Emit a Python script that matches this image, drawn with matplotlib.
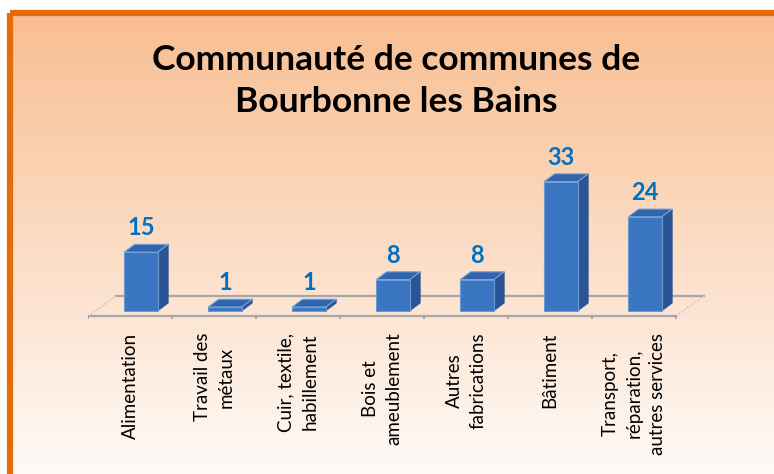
import numpy as np
import matplotlib.pyplot as plt
from matplotlib.patches import Polygon, Rectangle

plt.rcParams['font.family'] = ['Lato', 'DejaVu Sans']

categories = ["Alimentation", "Travail des\nmétaux", "Cuir, textile,\nhabillement",
              "Bois et\nameublement", "Autres\nfabrications", "Bâtiment",
              "Transport,\nréparation,\nautres services"]
values = [15, 1, 1, 8, 8, 33, 24]
title = "Communauté de communes de\nBourbonne les Bains"

fig = plt.figure(figsize=(7.74, 4.74), dpi=100)

# background: orange -> white gradient with orange frame
bg = fig.add_axes([0, 0, 1, 1])
bg.set_xlim(0, 774)
bg.set_ylim(474, 0)
bg.axis('off')
top = np.array([248, 190, 145]) / 255
bot = np.array([255, 251, 248]) / 255
t = np.linspace(0, 1, 256)[:, None]
grad = (top * (1 - t) + bot * t)[:, None, :]
bg.imshow(grad, extent=[10, 790, 480, 13], aspect='auto', zorder=0)
bg.add_patch(Rectangle((10, 12.5), 800, 500, fill=False, edgecolor='#E46C0A', lw=4.5, zorder=1))
bg.text(396, 81, title, ha='center', va='center', fontsize=25.5, fontweight='bold',
        linespacing=1.4, color='black')

# main chart area (pseudo 3d)
ax = fig.add_axes([88 / 774, (474 - 318.8) / 474, 7.35 * 84 / 774, 38 * 3.92 / 474])
ax.set_facecolor('none')
ax.set_xlim(-0.5, 6.85)
ax.set_ylim(-2, 36)
for s in ax.spines.values():
    s.set_visible(False)
ax.set_yticks([])

n = len(values)
floor_y = -1.3
fdx, fdy = 0.333, 5.1
grey = '#A6A6A6'
ax.plot([-0.5, n - 0.5], [floor_y, floor_y], color=grey, lw=1.6, zorder=1)
ax.plot([-0.5 + fdx, n - 0.5 + fdx], [floor_y + fdy, floor_y + fdy], color=grey, lw=1.6, zorder=1)
ax.plot([-0.5, -0.5 + fdx], [floor_y, floor_y + fdy], color='#C8C8C8', lw=1.2, ls=(0, (1, 1)), zorder=1)
ax.plot([n - 0.5, n - 0.5 + fdx], [floor_y, floor_y + fdy], color='#C8C8C8', lw=1.2, ls=(0, (1, 1)), zorder=1)
for b in np.arange(-0.5, n, 1.0):
    ax.plot([b, b], [floor_y, floor_y - 1.6], color=grey, lw=1.4, zorder=1)

dx, dy = 0.125, 2.0
for i, v in enumerate(values):
    x0, x1 = i - 0.07, i + 0.33
    front = Polygon([(x0, 0), (x1, 0), (x1, v), (x0, v)], closed=True,
                    facecolor='#3A76C2', edgecolor='#6E9AD4', lw=0.8, zorder=3)
    side = Polygon([(x1, 0), (x1 + dx, dy), (x1 + dx, v + dy), (x1, v)], closed=True,
                   facecolor='#2A5494', edgecolor='#2A5494', lw=0.5, zorder=3)
    topf = Polygon([(x0, v), (x1, v), (x1 + dx, v + dy), (x0 + dx, v + dy)], closed=True,
                   facecolor='#3065AD', edgecolor='#7FA6DA', lw=0.8, zorder=4)
    ax.add_patch(side)
    ax.add_patch(front)
    ax.add_patch(topf)
    ax.text((x0 + x1) / 2, v + dy + 2.3, str(v), ha='center', va='baseline',
            fontsize=17, fontweight='bold', color='#0070C0', zorder=5)

ax.set_xticks(range(n))
ax.set_xticklabels(categories, rotation=90, fontsize=13.5)
for lab in ax.get_xticklabels():
    lab.set_multialignment('center')
    lab.set_linespacing(1.45)
ax.tick_params(axis='x', length=0, pad=10)

fig.savefig('out.png', dpi=100)
